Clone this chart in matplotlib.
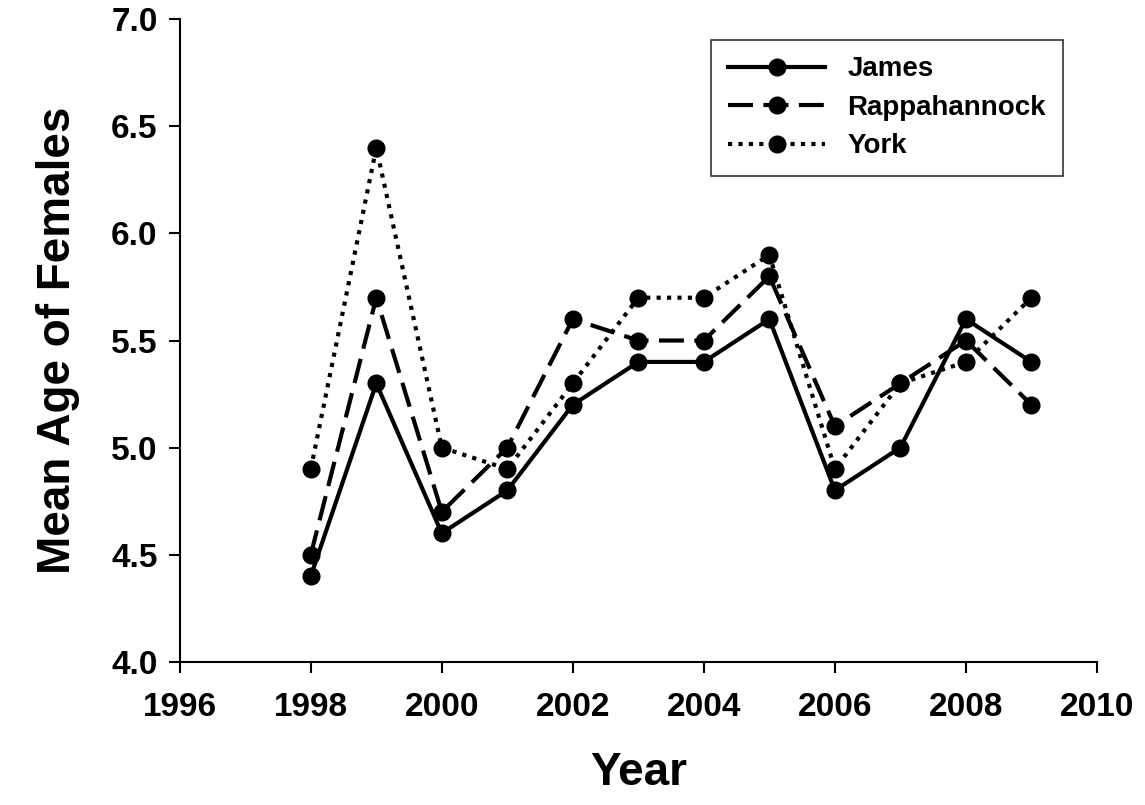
import matplotlib
matplotlib.use("Agg")
import matplotlib.pyplot as plt

years = [1998,1999,2000,2001,2002,2003,2004,2005,2006,2007,2008,2009]
james = [4.4,5.3,4.6,4.8,5.2,5.4,5.4,5.6,4.8,5.0,5.6,5.4]
rapp = [4.5,5.7,4.7,5.0,5.6,5.5,5.5,5.8,5.1,5.3,5.5,5.2]
york = [4.9,6.4,5.0,4.9,5.3,5.7,5.7,5.9,4.9,5.3,5.4,5.7]

plt.rcParams['font.family'] = ['Liberation Sans', 'DejaVu Sans']
plt.rcParams['font.weight'] = 'bold'
fig = plt.figure(figsize=(11.45, 8.05), dpi=100)
ax = fig.add_axes([0.157, 0.178, 0.801, 0.798])
ms = 12
ax.plot(years, james, '-', color='black', lw=3, marker='o', ms=ms, label='James')
ax.plot(years, rapp, color='black', lw=3, ls=(0, (6, 2.5)), marker='o', ms=ms, label='Rappahannock')
ax.plot(years, york, color='black', lw=3, ls=(0, (1, 1.5)), marker='o', ms=ms, label='York')
ax.set_xlim(1996, 2010)
ax.set_ylim(4.0, 7.0)
ax.set_xticks(range(1996, 2011, 2))
ax.set_yticks([4.0,4.5,5.0,5.5,6.0,6.5,7.0])
ax.set_yticklabels(['4.0','4.5','5.0','5.5','6.0','6.5','7.0'])
ax.tick_params(labelsize=24, width=1.5, length=8, direction='out', pad=8)
ax.tick_params(axis='x', pad=14)
for s in ['top', 'right']:
    ax.spines[s].set_visible(False)
for s in ['left', 'bottom']:
    ax.spines[s].set_linewidth(1.5)
ax.set_xlabel('Year', fontsize=33, fontweight='bold', labelpad=20)
ax.set_ylabel('Mean Age of Females', fontsize=33, fontweight='bold', labelpad=22)
leg = ax.legend(loc='upper right', fontsize=20, frameon=True, fancybox=False,
                edgecolor='black', handlelength=3.5, borderpad=0.6, labelspacing=0.45,
                bbox_to_anchor=(0.978, 0.99))
leg.get_frame().set_linewidth(1.2)
fig.savefig('out.png', dpi=100)
